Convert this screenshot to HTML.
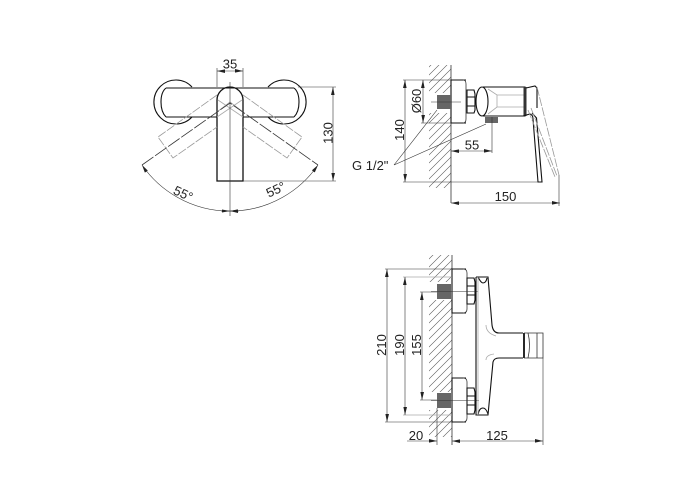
<!DOCTYPE html>
<html><head><meta charset="utf-8"><style>
html,body{margin:0;padding:0;background:#fff}
svg{display:block}
text{font-family:"Liberation Sans",sans-serif;font-size:13px;fill:#222}
.d{fill:none;stroke:#111;stroke-width:1.1}
.m{fill:none;stroke:#333;stroke-width:.8}
.t{fill:none;stroke:#333;stroke-width:.6}
.g{fill:none;stroke:#aaa;stroke-width:.8}
.gd{fill:none;stroke:#999;stroke-width:.8;stroke-dasharray:9 1.5}
.dim{fill:none;stroke:#333;stroke-width:.6;marker-start:url(#a);marker-end:url(#a)}
</style></head><body>
<svg width="700" height="500" viewBox="0 0 700 500" xmlns="http://www.w3.org/2000/svg">
<defs>
<marker id="a" viewBox="0 0 8 4" refX="8" refY="2" markerWidth="8" markerHeight="4" markerUnits="userSpaceOnUse" orient="auto-start-reverse"><path d="M0 0L8 2L0 3.600Z" fill="#222"/></marker>
<pattern id="h" width="8" height="8" patternUnits="userSpaceOnUse"><path d="M-1 9L9 -1M-1 1L1 -1M7 9L9 7" stroke="#555" stroke-width=".6" fill="none"/></pattern>
</defs>

<!-- top view -->
<path class="d" d="M166 88H294M166 117H217M243 117H294"/>
<path class="d" d="M166 88Q161 92 161 102Q161 112 166 117M294 88Q299 92 299 102Q299 112 294 117"/>
<path class="d" d="M192 87A22 22 0 1 0 192 117M268 87A22 22 0 1 1 268 117"/>
<path class="d" style="stroke-width:1.300" d="M217 181V100A13 13 0 0 1 243 100V181Z"/>
<path class="gd" d="M217 95L158 137L173 158L217 127M243 95L302 137L287 158L243 127"/>
<path class="g" d="M230 102L217 112M230 102L243 112M218 100L243 117M242 100L217 117"/>
<path class="t" d="M230 82V216"/>
<path class="m" stroke-dasharray="14 2" d="M142 165L230 103L318 165"/>
<path class="t" d="M217 87V68M243 87V68M298 87H336M243 181H336"/>
<path class="dim" d="M217 71H243"/>
<path class="dim" d="M333 87V181"/>
<path class="t" d="M142 165A107 107 0 0 0 318 165" marker-start="url(#a)" marker-end="url(#a)"/>
<path class="t" d="M221 211H230M239 211H230" marker-end="url(#a)"/>
<path d="M222 209.500L230 211L222 212.500ZM238 209.500L230 211L238 212.500Z" fill="#222"/>
<text x="230" y="68.500" text-anchor="middle">35</text>
<text transform="translate(332.500,133) rotate(-90)" text-anchor="middle">130</text>
<text transform="translate(183,194) rotate(25)" text-anchor="middle" dy="4">55°</text>
<text transform="translate(276,190) rotate(-25)" text-anchor="middle" dy="4">55°</text>

<!-- side view -->
<rect x="429" y="65" width="22" height="28" fill="url(#h)"/>
<rect x="429" y="113" width="22" height="75" fill="url(#h)"/>
<path class="m" d="M451 65V203"/>
<path class="d" d="M466 80H451V123H466"/>
<path class="m" d="M463 80Q466 80 466 84V119Q466 123 463 123"/>
<path class="d" d="M467 90H474L475 94V110L474 113H467ZM467 97H475M467 106H475"/>
<rect x="437" y="95" width="14" height="14" fill="#666"/>
<path class="t" d="M431 102H461"/>
<path class="d" d="M483 87H525V116H483"/>
<ellipse cx="482" cy="101.500" rx="6" ry="14.500" class="d"/>
<path class="g" d="M488 89L497 95H525M488 114L497 107H525M497 95V107"/>
<rect x="523.500" y="87" width="3" height="29" fill="#333"/>
<rect x="485" y="117" width="13" height="6" fill="#666"/>
<path class="d" d="M526 88L535 86L537 88L537 108"/>
<path class="d" d="M523 116L530 114Q533 115 533 119L538 182H542L536.500 118L532 113"/>
<path class="gd" d="M537 87L559 175M528 110L555 177M531 108L557 176"/>
<path class="t" d="M451 80H403M451 123H421M538 182H403M559 175V206M492 117V153"/>
<path class="dim" d="M423 80V123"/>
<path class="dim" d="M405 80V182"/>
<path class="dim" d="M451 151H492"/>
<path class="dim" d="M451 203H560"/>
<path class="t" d="M394 165L437 110M394 165L486 124"/>
<text transform="translate(421,101) rotate(-90)" text-anchor="middle">Ø60</text>
<text transform="translate(404,130) rotate(-90)" text-anchor="middle">140</text>
<text x="472" y="149.500" text-anchor="middle">55</text>
<text x="505.500" y="201" text-anchor="middle">150</text>
<text x="352" y="170">G 1/2"</text>

<!-- front view -->
<rect x="429" y="255" width="23" height="27" fill="url(#h)"/>
<rect x="429" y="300" width="23" height="92" fill="url(#h)"/>
<rect x="429" y="410" width="23" height="27" fill="url(#h)"/>
<path class="m" d="M452 255V445"/>
<path class="t" d="M437 408V445"/>
<path class="d" d="M466 269H452V313H466M466 378H452V422H466"/>
<path class="m" d="M463 269Q467 269 467 273V309Q467 313 463 313M463 378Q467 378 467 382V418Q467 422 463 422"/>
<path class="d" d="M467 278H474L475 282V300L474 304H467ZM467 286H475M467 295H475M467 388H474L475 392V410L474 414H467ZM467 396H475M467 405H475"/>
<rect x="437" y="284" width="14" height="15" fill="#666"/>
<rect x="437" y="393" width="14" height="15" fill="#666"/>
<path class="t" d="M431 291.500H478M431 400.500H479"/>
<path class="d" d="M476 277V415H488L493 362Q494 358 499 358H523M476 277H488L492 325Q493 333 499 333H523"/>
<path class="d" d="M478 277Q481 283 483 283Q486 283 487 278M478 415Q479 408 483 408Q486 408 488 414"/>
<path class="g" d="M478 277V415M486 325Q486 333 496 336M486 360Q486 355 494 354"/>
<path class="d" style="stroke-width:1.800" d="M524 333V358"/>
<path class="m" d="M524 333H543V358H524M528 333Q531 345 528 358M537 333V358"/>
<path class="g" d="M452 277H403M452 415H403"/>
<path class="t" d="M452 269H385M452 422H385M437 292H420M437 400H420M543 358V445"/>
<path class="dim" d="M387 269V422"/>
<path class="dim" d="M405 277V415"/>
<path class="dim" d="M422 292V400"/>
<path class="t" d="M407 441H437" marker-end="url(#a)"/>
<path class="dim" d="M452 441H543"/>
<text transform="translate(386,345) rotate(-90)" text-anchor="middle">210</text>
<text transform="translate(404,345) rotate(-90)" text-anchor="middle">190</text>
<text transform="translate(421,345) rotate(-90)" text-anchor="middle">155</text>
<text x="416" y="440" text-anchor="middle">20</text>
<text x="497" y="440" text-anchor="middle">125</text>
</svg>
</body></html>
